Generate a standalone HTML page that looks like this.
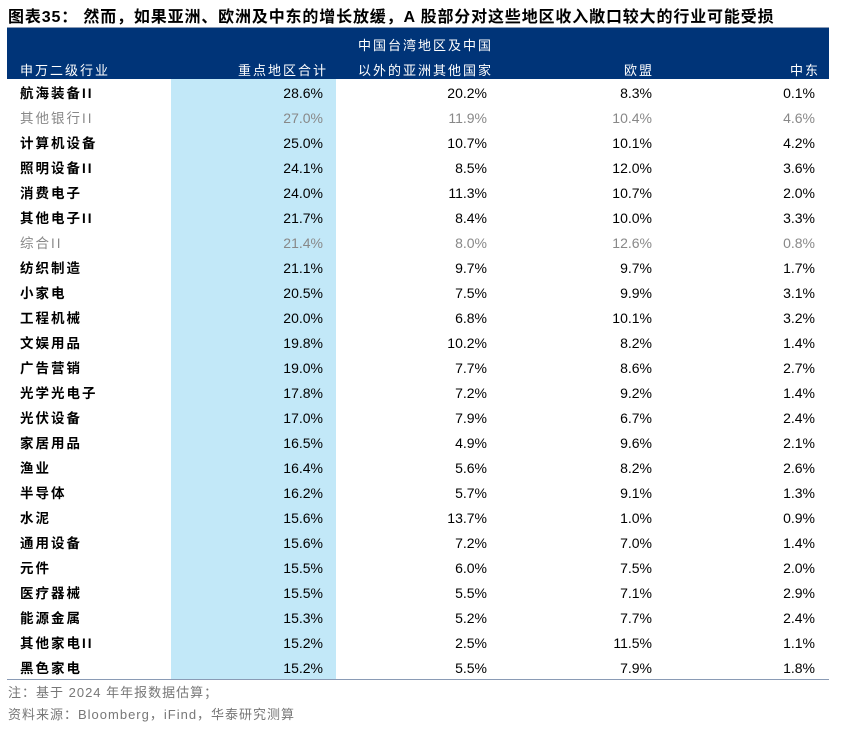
<!DOCTYPE html>
<html><head><meta charset="utf-8"><style>
body{margin:0;width:845px;height:731px;background:#fff;font-family:"Liberation Sans","Noto Sans CJK SC",sans-serif;position:relative;overflow:hidden}
.t{position:absolute;left:8px;top:3px;font-size:16px;font-weight:bold;letter-spacing:0.85px;color:#000;white-space:nowrap}
.hl{position:absolute;left:7px;top:27px;width:822px;height:1px;background:#8a9bb5}
.hd{position:absolute;left:7px;top:28px;width:822px;height:51px;background:#003478}
.hd span{position:absolute;color:#fff;font-size:13px;letter-spacing:2px;white-space:nowrap}
.blue{position:absolute;left:171px;top:79px;width:165px;height:600px;background:#c2e8f8}
.row{position:absolute;left:0;width:845px;height:25px;font-size:14px;line-height:25px}
.row div{position:absolute;white-space:nowrap}
.c1{left:20px;font-size:13.5px;letter-spacing:2px}
.c2{right:522px}.c3{right:358px}.c4{right:193px}.c5{right:30px}
.g{color:#888}
.bl{position:absolute;left:7px;top:679px;width:822px;height:1px;background:#8a9bb5}
.n{position:absolute;left:8px;font-size:13px;color:#777;letter-spacing:1px;white-space:nowrap}
</style></head><body>
<div class="t">图表35： 然而，如果亚洲、欧洲及中东的增长放缓，A 股部分对这些地区收入敞口较大的行业可能受损</div>
<div class="hl"></div>
<div class="hd">
<span style="left:13px;top:32px">申万二级行业</span>
<span style="left:231px;top:32px">重点地区合计</span>
<span style="left:351px;top:7px">中国台湾地区及中国</span>
<span style="left:351px;top:32px">以外的亚洲其他国家</span>
<span style="left:617px;top:32px">欧盟</span>
<span style="left:783px;top:32px">中东</span>
</div>
<div class="blue"></div>
<div id="rows"></div>
<div class="bl"></div>
<div class="n" style="top:682px">注：基于 2024 年年报数据估算；</div>
<div class="n" style="top:704px">资料来源：Bloomberg，iFind，华泰研究测算</div>
<script>
var d=[["航海装备II","28.6%","20.2%","8.3%","0.1%"],["其他银行II","27.0%","11.9%","10.4%","4.6%",1],["计算机设备","25.0%","10.7%","10.1%","4.2%"],["照明设备II","24.1%","8.5%","12.0%","3.6%"],["消费电子","24.0%","11.3%","10.7%","2.0%"],["其他电子II","21.7%","8.4%","10.0%","3.3%"],["综合II","21.4%","8.0%","12.6%","0.8%",1],["纺织制造","21.1%","9.7%","9.7%","1.7%"],["小家电","20.5%","7.5%","9.9%","3.1%"],["工程机械","20.0%","6.8%","10.1%","3.2%"],["文娱用品","19.8%","10.2%","8.2%","1.4%"],["广告营销","19.0%","7.7%","8.6%","2.7%"],["光学光电子","17.8%","7.2%","9.2%","1.4%"],["光伏设备","17.0%","7.9%","6.7%","2.4%"],["家居用品","16.5%","4.9%","9.6%","2.1%"],["渔业","16.4%","5.6%","8.2%","2.6%"],["半导体","16.2%","5.7%","9.1%","1.3%"],["水泥","15.6%","13.7%","1.0%","0.9%"],["通用设备","15.6%","7.2%","7.0%","1.4%"],["元件","15.5%","6.0%","7.5%","2.0%"],["医疗器械","15.5%","5.5%","7.1%","2.9%"],["能源金属","15.3%","5.2%","7.7%","2.4%"],["其他家电II","15.2%","2.5%","11.5%","1.1%"],["黑色家电","15.2%","5.5%","7.9%","1.8%"]];
var h="";d.forEach(function(r,i){h+='<div class="row'+(r[5]?' g':'')+'" style="top:'+(81+i*25)+'px"><div class="c1"'+(r[5]?'':' style="font-weight:bold"')+'>'+r[0]+'</div><div class="c2">'+r[1]+'</div><div class="c3">'+r[2]+'</div><div class="c4">'+r[3]+'</div><div class="c5">'+r[4]+'</div></div>';});
document.getElementById("rows").innerHTML=h;
</script>
</body></html>
